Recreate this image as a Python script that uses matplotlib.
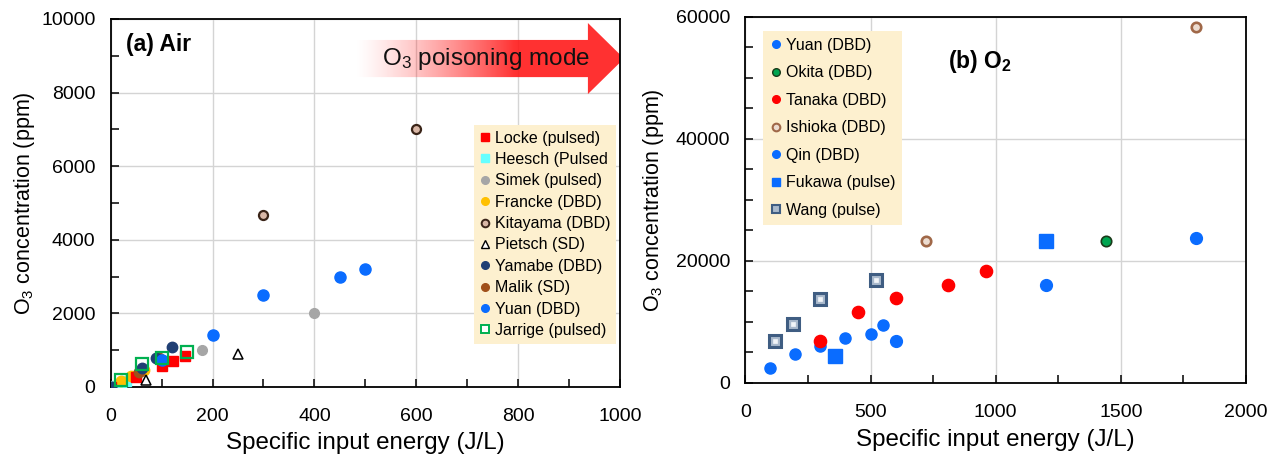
import numpy as np
import matplotlib
matplotlib.use("Agg")
import matplotlib.pyplot as plt
from matplotlib.lines import Line2D
from matplotlib.patches import Polygon
from matplotlib.ticker import MultipleLocator

plt.rcParams['font.family'] = ['Liberation Sans', 'DejaVu Sans']
plt.rcParams['mathtext.fontset'] = 'custom'
plt.rcParams['mathtext.rm'] = 'Liberation Sans'
plt.rcParams['mathtext.it'] = 'Liberation Sans:italic'
plt.rcParams['mathtext.bf'] = 'Liberation Sans:bold'

# ---------------- (a) Air data ----------------
locke_x = [0, 50, 100, 122, 145]
locke_y = [0, 260, 580, 700, 850]
heesch_x = [10, 20, 30]
heesch_y = [30, 90, 160]
simek_x = [50, 180, 400]
simek_y = [320, 1000, 2000]
francke_x = [20, 40, 65]
francke_y = [170, 300, 470]
kitayama_x = [300, 600]
kitayama_y = [4670, 7000]
pietsch_x = [70, 250]
pietsch_y = [200, 900]
yamabe_x = [0, 62, 88, 121]
yamabe_y = [0, 520, 790, 1090]
malik_x = [55, 95]
malik_y = [420, 780]
yuan_a_x = [100, 200, 300, 450, 500]
yuan_a_y = [720, 1400, 2500, 3000, 3200]
jarrige_x = [20, 62, 100, 150]
jarrige_y = [180, 630, 790, 950]

# ---------------- (b) O2 data ----------------
yuan_b_x = [600, 1200, 1800]
yuan_b_y = [6900, 16100, 23700]
okita_x = [1440]
okita_y = [23300]
tanaka_x = [300, 450, 600, 810, 960]
tanaka_y = [6900, 11600, 13900, 16100, 18300]
ishioka_x = [720, 1800]
ishioka_y = [23200, 58300]
qin_x = [100, 200, 300, 400, 500, 550]
qin_y = [2400, 4800, 6100, 7300, 8000, 9500]
fukawa_x = [360, 1200]
fukawa_y = [4500, 23200]
wang_x = [120, 190, 300, 520]
wang_y = [6900, 9700, 13800, 16900]

fig = plt.figure(figsize=(12.71, 4.57), dpi=100)
axL = fig.add_axes([0.0871, 0.1532, 0.4007, 0.8053])
axR = fig.add_axes([0.5864, 0.162, 0.394, 0.801])

LEG_BG = '#fdf0cf'
GRID = '#d4d4d4'

def style_axes(ax):
    for s in ax.spines.values():
        s.set_linewidth(1.3)
        s.set_color('black')
    ax.tick_params(which='both', direction='in', top=False, right=False,
                   labelsize=14, width=1.1, color='black')
    ax.tick_params(which='both', length=6)
    ax.tick_params(axis='x', which='both', pad=15)
    ax.tick_params(axis='y', which='both', pad=11)
    ax.grid(True, which='major', color=GRID, linewidth=1.0, zorder=0)
    ax.set_axisbelow(True)

def pl(ax, x, y, marker, ms, fc, ec, mew=1.0, z=3):
    ax.plot(x, y, linestyle='none', marker=marker, markersize=ms,
            markerfacecolor=fc, markeredgecolor=ec, markeredgewidth=mew, zorder=z)

# ---- Left panel ----
ax = axL
pl(ax, heesch_x, heesch_y, 's', 7, '#66ffff', '#66ffff')
pl(ax, simek_x, simek_y, 'o', 7, '#a6a6a6', '#a6a6a6')
pl(ax, francke_x, francke_y, 'o', 7.5, '#ffc000', '#ffc000')
pl(ax, locke_x, locke_y, 's', 7.5, '#ff0000', '#ff0000')
pl(ax, malik_x, malik_y, 'o', 7.5, '#a0501a', '#a0501a')
pl(ax, yamabe_x, yamabe_y, 'o', 7.5, '#203f74', '#203f74')
pl(ax, kitayama_x, kitayama_y, 'o', 6.5, '#d9b7a6', '#3a2418', mew=1.6)
pl(ax, pietsch_x, pietsch_y, '^', 7, 'white', 'black', mew=1.1)
pl(ax, yuan_a_x, yuan_a_y, 'o', 8, '#0a6cff', '#0a6cff')
pl(ax, jarrige_x, jarrige_y, 's', 8, 'none', '#00b050', mew=1.6, z=4)

ax.set_xlim(0, 1000)
ax.set_ylim(0, 10000)
ax.xaxis.set_major_locator(MultipleLocator(200))
ax.xaxis.set_minor_locator(MultipleLocator(100))
ax.yaxis.set_major_locator(MultipleLocator(2000))
ax.yaxis.set_minor_locator(MultipleLocator(1000))
style_axes(ax)
ax.set_xlabel('Specific input energy (J/L)', fontsize=17.4, labelpad=5)
ax.set_ylabel('O$_3$ concentration (ppm)', fontsize=15.5, labelpad=3)
ax.text(0.03, 0.93, '(a) Air', transform=ax.transAxes, fontsize=16.5,
        fontweight='bold', va='center', ha='left')

legL = [
    ('Locke (pulsed)', 's', '#ff0000', '#ff0000', 1.0),
    ('Heesch (Pulsed', 's', '#66ffff', '#66ffff', 1.0),
    ('Simek (pulsed)', 'o', '#a6a6a6', '#a6a6a6', 1.0),
    ('Francke (DBD)', 'o', '#ffc000', '#ffc000', 1.0),
    ('Kitayama (DBD)', 'o', '#d9b7a6', '#3a2418', 1.4),
    ('Pietsch (SD)', '^', 'white', 'black', 1.0),
    ('Yamabe (DBD)', 'o', '#203f74', '#203f74', 1.0),
    ('Malik (SD)', 'o', '#a0501a', '#a0501a', 1.0),
    ('Yuan (DBD)', 'o', '#0a6cff', '#0a6cff', 1.0),
    ('Jarrige (pulsed)', 's', 'white', '#00b050', 1.4),
]
hL = [Line2D([], [], linestyle='none', marker=m, markersize=5.5, markerfacecolor=fc,
             markeredgecolor=ec, markeredgewidth=mw, label=l) for l, m, fc, ec, mw in legL]
lg = ax.legend(handles=hL, loc='upper left', bbox_to_anchor=(0.713, 0.712),
               fontsize=11.5, frameon=True, fancybox=False, framealpha=1,
               facecolor=LEG_BG, edgecolor='none', handlelength=0.7,
               handletextpad=0.25, labelspacing=0.40, borderpad=0.35,
               borderaxespad=0)
lg.set_zorder(5)

# gradient arrow
x0, xb, xt = 0.478, 0.937, 1.008
yb0, yb1 = 0.842, 0.943
yh0, yh1 = 0.796, 0.989
yc = 0.5 * (yb0 + yb1)
verts = [(x0, yb0), (xb, yb0), (xb, yh0), (xt, yc), (xb, yh1), (xb, yb1), (x0, yb1)]
poly = Polygon(verts, closed=True, transform=ax.transAxes, facecolor='none',
               edgecolor='none')
ax.add_patch(poly)
N = 256
t = np.linspace(0, 1, N)
alpha = np.clip(t / 0.6, 0, 1) ** 1.3 * 0.9
img = np.zeros((1, N, 4))
img[..., 0] = 1.0
img[..., 1] = 0.1
img[..., 2] = 0.1
img[..., 3] = alpha
im = ax.imshow(img, extent=[x0, xt, yh0, yh1], transform=ax.transAxes,
               aspect='auto', interpolation='bilinear', zorder=2)
im.set_clip_path(poly)
im.set_clip_box(None)
ax.set_xlim(0, 1000)
ax.set_ylim(0, 10000)
ax.text(0.737, 0.892, 'O$_3$ poisoning mode', transform=ax.transAxes,
        fontsize=17.5, ha='center', va='center', color='#111111', zorder=3)

# ---- Right panel ----
ax = axR
pl(ax, qin_x, qin_y, 'o', 8, '#0a6cff', '#0a6cff')
pl(ax, yuan_b_x, yuan_b_y, 'o', 8.5, '#0a6cff', '#0a6cff')
pl(ax, tanaka_x, tanaka_y, 'o', 8.8, '#ff0000', '#ff0000')
pl(ax, okita_x, okita_y, 'o', 7.5, '#00a550', '#1a3a1a', mew=1.2)
pl(ax, ishioka_x, ishioka_y, 'o', 6.8, '#ecdcd0', '#a06848', mew=1.9)
pl(ax, fukawa_x, fukawa_y, 's', 9.5, '#0a6cff', '#0a6cff')
pl(ax, wang_x, wang_y, 's', 8, '#a9b9cc', '#3f5d82', mew=2.2)
pl(ax, wang_x, wang_y, 's', 3, '#f2f5f8', '#f2f5f8', mew=0.5, z=4)

ax.set_xlim(0, 2000)
ax.set_ylim(0, 60000)
ax.xaxis.set_major_locator(MultipleLocator(500))
ax.xaxis.set_minor_locator(MultipleLocator(250))
ax.yaxis.set_major_locator(MultipleLocator(20000))
ax.yaxis.set_minor_locator(MultipleLocator(5000))
style_axes(ax)
ax.set_xlabel('Specific input energy (J/L)', fontsize=17.4, labelpad=6)
ax.set_ylabel('O$_3$ concentration (ppm)', fontsize=15.5, labelpad=7)
ax.text(0.405, 0.877, '(b) O$_\\mathbf{2}$', transform=ax.transAxes, fontsize=16.5,
        fontweight='bold', va='center', ha='left')

legR = [
    ('Yuan (DBD)', 'o', '#0a6cff', '#0a6cff', 1.0),
    ('Okita (DBD)', 'o', '#00a550', '#1a3a1a', 1.0),
    ('Tanaka (DBD)', 'o', '#ff0000', '#ff0000', 1.0),
    ('Ishioka (DBD)', 'o', '#ecdcd0', '#a06848', 1.5),
    ('Qin (DBD)', 'o', '#0a6cff', '#0a6cff', 1.0),
    ('Fukawa (pulse)', 's', '#0a6cff', '#0a6cff', 1.0),
    ('Wang (pulse)', 's', '#a9b9cc', '#3f5d82', 1.5),
]
hR = [Line2D([], [], linestyle='none', marker=m, markersize=5.5, markerfacecolor=fc,
             markeredgecolor=ec, markeredgewidth=mw, label=l) for l, m, fc, ec, mw in legR]
lg2 = ax.legend(handles=hR, loc='upper left', bbox_to_anchor=(0.036, 0.962),
                fontsize=11.5, frameon=True, fancybox=False, framealpha=1,
                facecolor=LEG_BG, edgecolor='none', handlelength=0.7,
                handletextpad=0.25, labelspacing=0.78, borderpad=0.45,
                borderaxespad=0)
lg2.set_zorder(5)

fig.savefig('out.png', dpi=100)
